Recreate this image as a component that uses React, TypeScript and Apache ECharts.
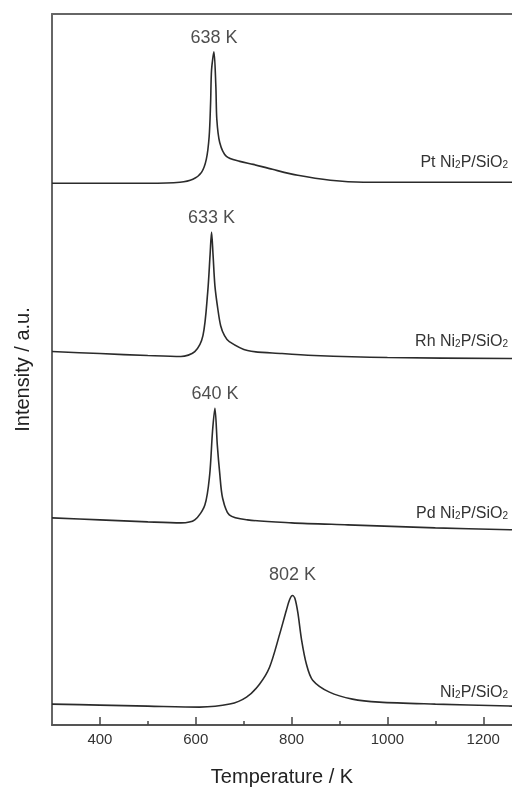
import React, { useEffect, useRef } from "react";
import * as echarts from "echarts";

// Temperatures (K) and intensities (a.u., arbitrary offset units)
const ptT = [300, 400, 500, 567, 594, 612, 622, 628, 631, 633, 638, 642, 644, 650, 664, 692, 720, 760, 813, 881, 950, 1100, 1260];
const ptI = [544, 544, 544, 545, 548, 555, 568, 591, 625, 658, 676, 641, 608, 585, 571, 566, 563, 558, 552, 547, 545, 545, 545];

const rhT = [300, 400, 500, 569, 598, 615, 625, 630, 633, 636, 640, 646, 652, 660, 670, 708, 780, 847, 1000, 1260];
const rhI = [375, 373, 371, 370, 375, 391, 435, 473, 495, 473, 441, 418, 401, 391, 385, 376, 373, 371, 369, 368];

const pdT = [300, 400, 500, 569, 598, 619, 629, 635, 640, 645, 650, 656, 670, 708, 800, 917, 1100, 1260];
const pdI = [208, 206, 204, 203, 206, 221, 251, 295, 318, 281, 253, 228, 211, 206, 203, 201, 198, 196];

const niT = [300, 400, 500, 608, 671, 706, 733, 754, 775, 789, 796, 802, 807, 813, 821, 831, 844, 879, 927, 983, 1100, 1260];
const niI = [21, 20, 19, 18, 21, 28, 41, 58, 91, 115, 126, 130, 127, 113, 85, 61, 45, 33, 26, 23, 21, 19];

const peakT = [638, 633, 640, 802];
const peakI = [676, 495, 318, 130];
const peakLabels = ["638 K", "633 K", "640 K", "802 K"];

const curveNames = ["Pt Ni{s|2}P/SiO{s|2}", "Rh Ni{s|2}P/SiO{s|2}", "Pd Ni{s|2}P/SiO{s|2}", "Ni{s|2}P/SiO{s|2}"];

const majorTicks = [400, 600, 800, 1000, 1200];
const minorTicks = [500, 700, 900, 1100];

const X_MIN = 300;
const X_MAX = 1260;
const Y_MIN = 0;
const Y_MAX = 714;

const zip = (a: number[], b: number[]) => a.map((v, i) => [v, b[i]]);

export default function App() {
  const ref = useRef<HTMLDivElement>(null);
  useEffect(() => {
    if (!ref.current) return;
    const chart = echarts.init(ref.current, null, { renderer: "svg" });
    const font = "'Liberation Sans', Arial, sans-serif";
    const lineStyle = { color: "#2b2b2b", width: 1.6 };
    const mk = (t: number[], v: number[]) => ({
      type: "line",
      data: zip(t, v),
      showSymbol: false,
      smooth: 0.3,
      lineStyle,
      xAxisIndex: 0,
      yAxisIndex: 0,
      silent: true,
    });
    const labelY = [162, 341, 513, 692];
    chart.setOption({
      animation: false,
      grid: { left: 52, top: 14, bottom: 63, width: (X_MAX - X_MIN) * 0.48 },
      xAxis: [
        {
          type: "value",
          min: X_MIN,
          max: X_MAX,
          position: "bottom",
          name: "Temperature / K",
          nameLocation: "middle",
          nameGap: 41,
          nameTextStyle: { fontFamily: font, fontSize: 20, color: "#222" },
          axisLine: { show: true, lineStyle: { color: "#555", width: 2 } },
          axisTick: { show: true, inside: true, length: 8, customValues: majorTicks, lineStyle: { color: "#444", width: 1.5 } },
          axisLabel: {
            customValues: majorTicks,
            formatter: (v: number) => String(v),
            fontFamily: font,
            fontSize: 15,
            color: "#333",
            margin: 6,
          },
          splitLine: { show: false },
        },
        {
          type: "value",
          min: X_MIN,
          max: X_MAX,
          position: "bottom",
          axisLine: { show: false },
          axisTick: { show: true, inside: true, length: 4, customValues: minorTicks, lineStyle: { color: "#444", width: 1.5 } },
          axisLabel: { show: false },
          splitLine: { show: false },
        },
        {
          type: "value",
          min: X_MIN,
          max: X_MAX,
          position: "top",
          axisLine: { show: true, lineStyle: { color: "#666", width: 2 } },
          axisTick: { show: false },
          axisLabel: { show: false },
          splitLine: { show: false },
        },
      ],
      yAxis: {
        type: "value",
        min: Y_MIN,
        max: Y_MAX,
        name: "Intensity / a.u.",
        nameLocation: "middle",
        nameGap: 20,
        nameTextStyle: { fontFamily: font, fontSize: 20, color: "#222" },
        axisLine: { show: true, lineStyle: { color: "#666", width: 2 } },
        axisTick: { show: false },
        axisLabel: { show: false },
        splitLine: { show: false },
      },
      series: [
        mk(ptT, ptI),
        mk(rhT, rhI),
        mk(pdT, pdI),
        mk(niT, niI),
        {
          type: "scatter",
          symbolSize: 0,
          silent: true,
          data: peakT.map((t, i) => ({
            value: [t, peakI[i]],
            label: { distance: i === 3 ? 13 : 6 },
          })),
          label: {
            show: true,
            position: "top",
            formatter: (p: any) => peakLabels[p.dataIndex],
            fontFamily: font,
            fontSize: 18,
            color: "#222",
          },
        },
      ],
      graphic: curveNames.map((txt, i) => ({
        type: "text",
        right: 4,
        top: labelY[i] - 9,
        silent: true,
        style: {
          text: txt,
          fontFamily: font,
          fontSize: 16,
          fill: "#333",
          rich: {
            s: { fontFamily: font, fontSize: 10, fill: "#333", padding: [6, 0, 0, 0] },
          },
        },
      })),
    });
    return () => chart.dispose();
  }, []);
  return <div ref={ref} style={{ position: "fixed", left: 0, top: 0, width: 512, height: 791 }} />;
}
